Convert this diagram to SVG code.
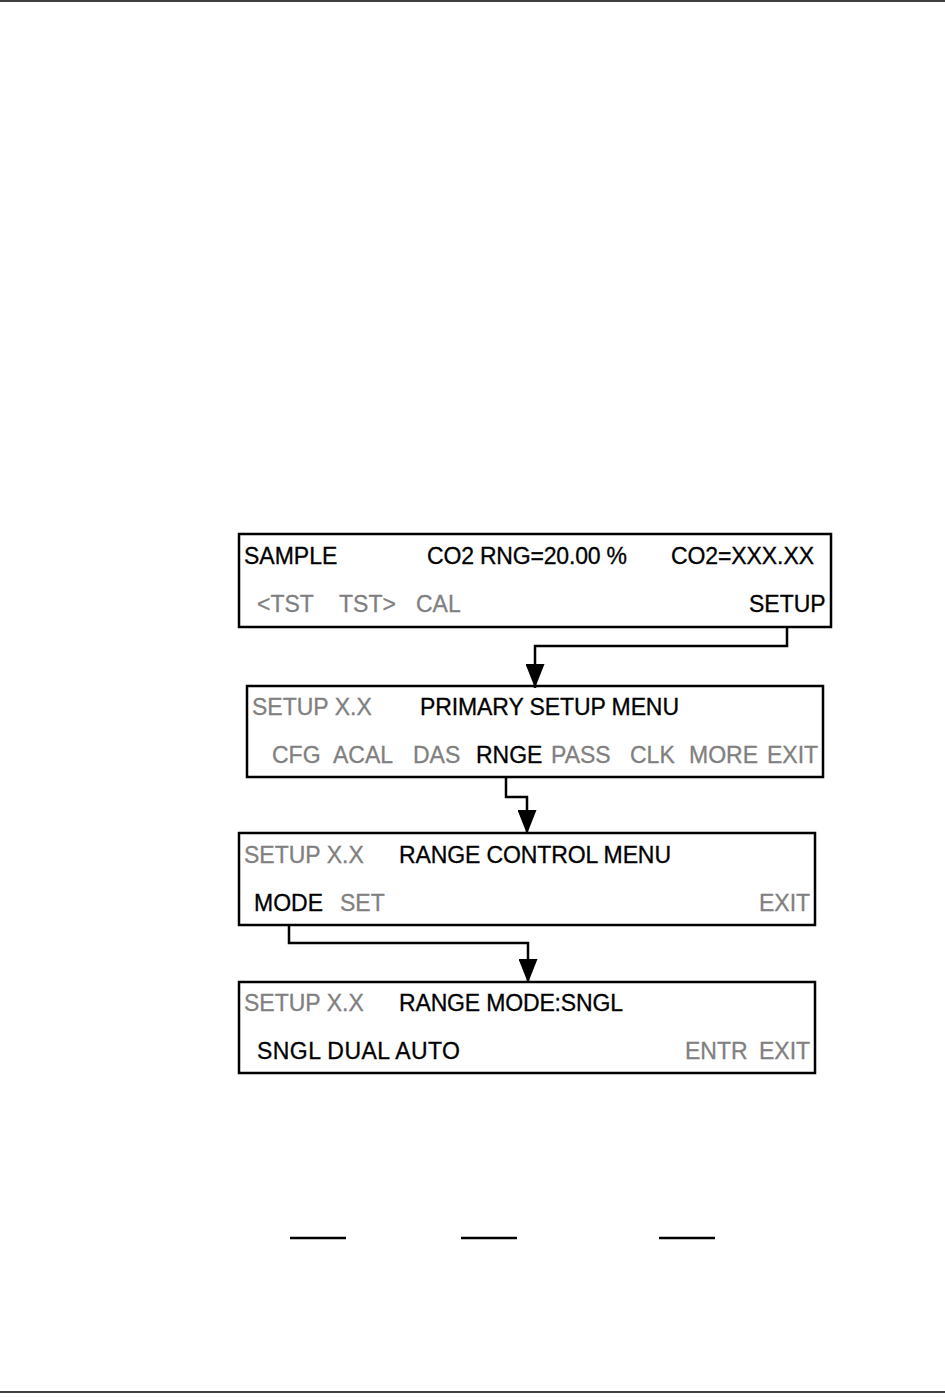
<svg xmlns="http://www.w3.org/2000/svg" width="945" height="1398" viewBox="0 0 945 1398">
<style>
.box{fill:#fff;stroke:#000;stroke-width:2.5}
.t{font-family:"Liberation Sans",Arial,sans-serif;font-size:23px;fill:#000;stroke:#000;stroke-width:0.3}
.g{fill:#808080;stroke:#808080}
.conn{fill:none;stroke:#000;stroke-width:2.5}
.rule{stroke:#000;fill:none}
</style>
<defs>
<marker id="ah" viewBox="0 0 24 19" refX="24" refY="9.5" markerWidth="24" markerHeight="19" markerUnits="userSpaceOnUse" orient="auto">
<path d="M0,0 L24,9.5 L0,19 z" fill="#000"/>
</marker>
</defs>
<line class="rule" x1="0" y1="1" x2="945" y2="1" stroke-width="1.5"/>
<line class="rule" x1="0" y1="1392" x2="945" y2="1392" stroke-width="1.5"/>

<g id="n1">
<rect class="box" x="239" y="534" width="592" height="93"/>
<text class="t" x="244" y="564">SAMPLE</text>
<text class="t" x="427" y="564" textLength="200">CO2 RNG=20.00 %</text>
<text class="t" x="671" y="564" textLength="143">CO2=XXX.XX</text>
<text class="t g" x="257" y="612">&lt;TST</text>
<text class="t g" x="339" y="612">TST&gt;</text>
<text class="t g" x="416" y="612">CAL</text>
<text class="t" x="749" y="612">SETUP</text>
</g>

<g id="n2">
<rect class="box" x="247" y="686" width="576" height="91"/>
<text class="t g" x="252" y="715">SETUP X.X</text>
<text class="t" x="420" y="715" textLength="259">PRIMARY SETUP MENU</text>
<text class="t g" x="272" y="763">CFG</text>
<text class="t g" x="333" y="763">ACAL</text>
<text class="t g" x="413" y="763">DAS</text>
<text class="t" x="476" y="763">RNGE</text>
<text class="t g" x="551" y="763">PASS</text>
<text class="t g" x="630" y="763">CLK</text>
<text class="t g" x="689" y="763">MORE</text>
<text class="t g" x="767" y="763">EXIT</text>
</g>

<g id="n3">
<rect class="box" x="239" y="833" width="576" height="92"/>
<text class="t g" x="244" y="863">SETUP X.X</text>
<text class="t" x="399" y="863" textLength="272">RANGE CONTROL MENU</text>
<text class="t" x="254" y="911">MODE</text>
<text class="t g" x="340" y="911">SET</text>
<text class="t g" x="759" y="911">EXIT</text>
</g>

<g id="n4">
<rect class="box" x="239" y="982" width="576" height="91"/>
<text class="t g" x="244" y="1011">SETUP X.X</text>
<text class="t" x="399" y="1011" textLength="224">RANGE MODE:SNGL</text>
<text class="t" x="257" y="1059" textLength="203">SNGL DUAL AUTO</text>
<text class="t g" x="685" y="1059">ENTR</text>
<text class="t g" x="759" y="1059">EXIT</text>
</g>

<g id="connectors">
<path class="conn" d="M787,627 V646 H535 V688" marker-end="url(#ah)"/>
<path class="conn" d="M506,777 V797 H527 V834" marker-end="url(#ah)"/>
<path class="conn" d="M289,925 V943 H528 V983" marker-end="url(#ah)"/>
</g>

<g id="underlines">
<line x1="290" y1="1238" x2="346" y2="1238" stroke="#000" stroke-width="2.5"/>
<line x1="461" y1="1238" x2="517" y2="1238" stroke="#000" stroke-width="2.5"/>
<line x1="659" y1="1238" x2="715" y2="1238" stroke="#000" stroke-width="2.5"/>
</g>
</svg>
